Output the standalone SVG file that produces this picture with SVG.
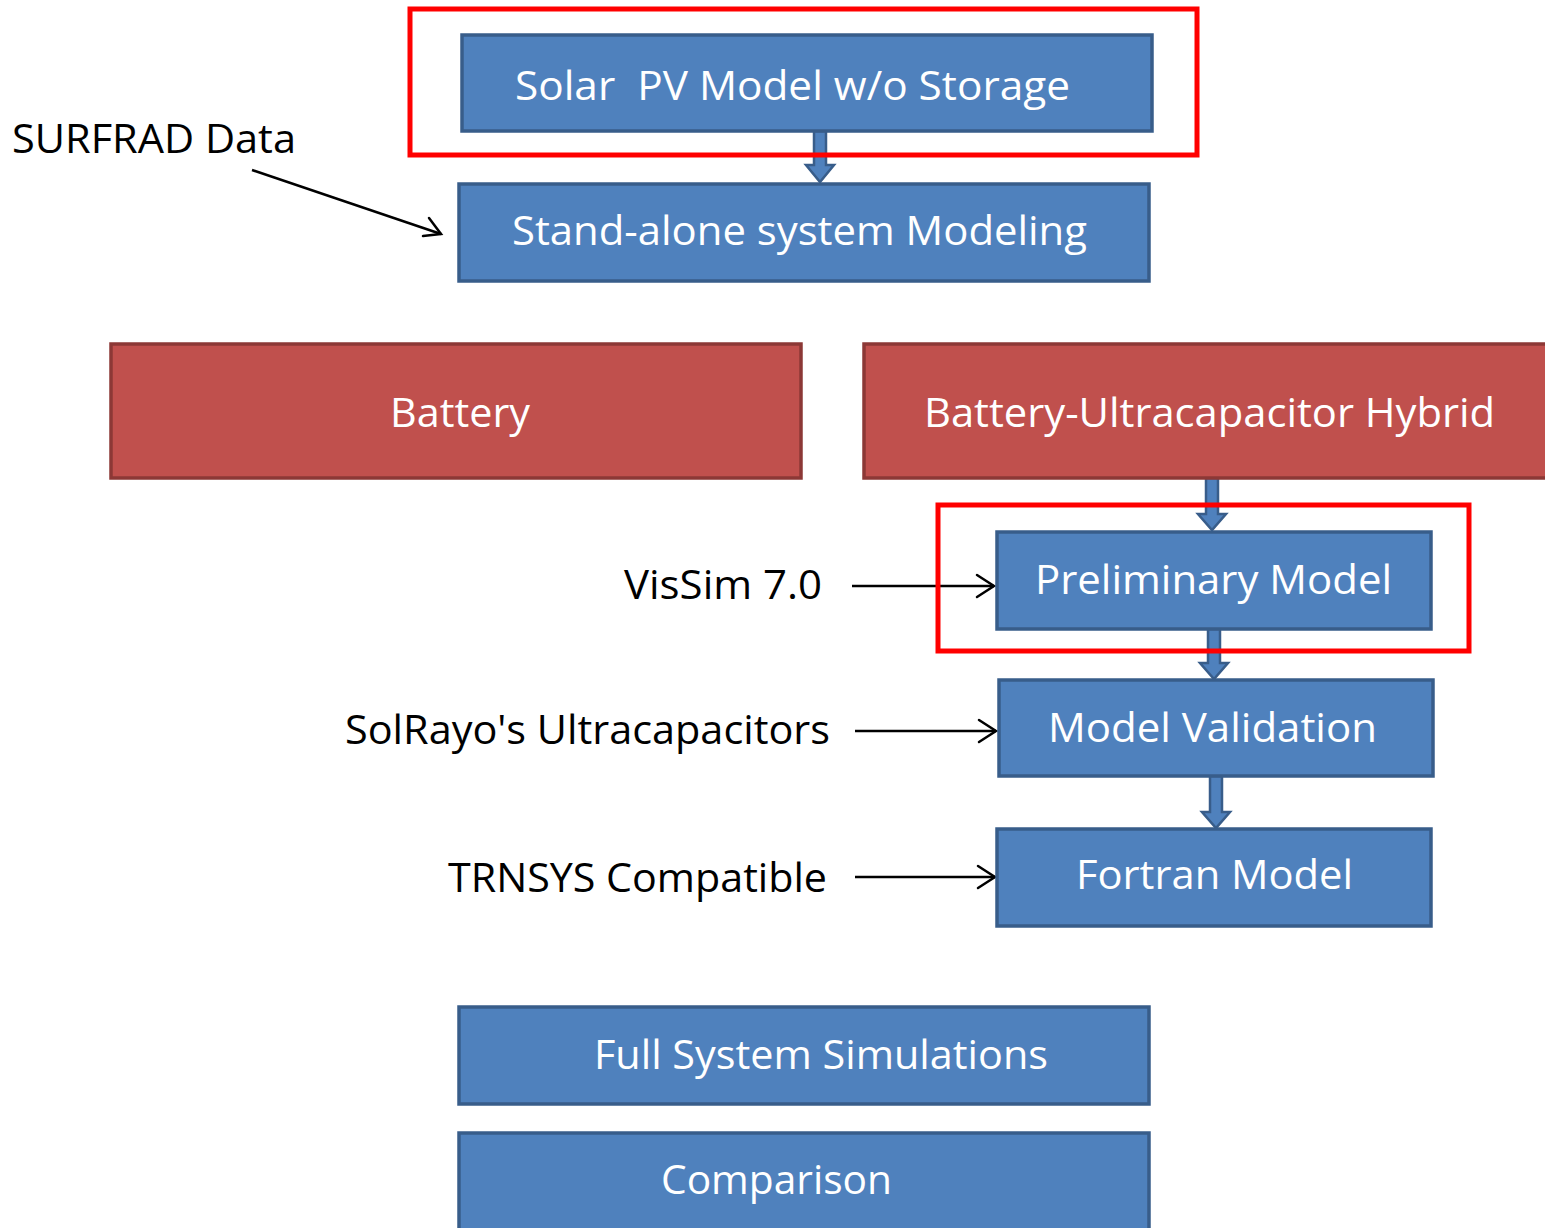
<svg xmlns="http://www.w3.org/2000/svg" width="1545" height="1228" viewBox="0 0 1545 1228">
<style>
.bx{fill:#4F81BD;stroke:#385D8A;stroke-width:3.5}
.rb{fill:#C0504D;stroke:#8C3836;stroke-width:3.5}
.hl{fill:none;stroke:#FF0000;stroke-width:5}
.wt{font-family:"Open Sans","Liberation Sans",sans-serif;font-size:40px;fill:#FFFFFF}
.bt{font-family:"Open Sans","Liberation Sans",sans-serif;font-size:40px;fill:#000000}
.ba{fill:#4F81BD;stroke:#385D8A;stroke-width:2.5;stroke-linejoin:miter}
.ln{stroke:#000;stroke-width:2.5;fill:none}
.hd{stroke:#000;stroke-width:2.5;fill:none;stroke-linecap:round}
</style>
<g id="connectors">
<polygon class="ba" points="814,131 826,131 826,165 834,165 820,182 806,165 814,165"/>
<polygon class="ba" points="1206,478 1218,478 1218,514 1226,514 1212,530 1198,514 1206,514"/>
<polygon class="ba" points="1208,629 1220,629 1220,663 1228,663 1214,679 1200,663 1208,663"/>
<polygon class="ba" points="1210,776 1222,776 1222,812 1230,812 1216,828 1202,812 1210,812"/>
<line class="ln" x1="252" y1="170" x2="441" y2="234"/>
<polyline class="hd" points="429,218 441,234 423,236"/>
<line class="ln" x1="852" y1="586" x2="994" y2="586"/>
<polyline class="hd" points="977,575 994,586 977,597"/>
<line class="ln" x1="855" y1="731" x2="996" y2="731"/>
<polyline class="hd" points="979,720 996,731 979,742"/>
<line class="ln" x1="855" y1="877" x2="995" y2="877"/>
<polyline class="hd" points="978,866 995,877 978,888"/>
</g>
<g id="solar"><rect class="bx" x="462" y="35" width="690" height="96"/><text class="wt" x="515" y="100" textLength="555" lengthAdjust="spacingAndGlyphs" xml:space="preserve">Solar  PV Model w/o Storage</text></g>
<g id="standalone"><rect class="bx" x="459" y="184" width="690" height="97"/><text class="wt" x="512" y="245" textLength="575" lengthAdjust="spacingAndGlyphs">Stand-alone system Modeling</text></g>
<g id="surfrad"><text class="bt" x="12" y="153" textLength="284" lengthAdjust="spacingAndGlyphs">SURFRAD Data</text></g>
<g id="battery"><rect class="rb" x="111" y="344" width="690" height="134"/><text class="wt" x="390" y="427" textLength="140" lengthAdjust="spacingAndGlyphs">Battery</text></g>
<g id="hybrid"><rect class="rb" x="864" y="344" width="700" height="134"/><text class="wt" x="924" y="427" textLength="571" lengthAdjust="spacingAndGlyphs">Battery-Ultracapacitor Hybrid</text></g>
<g id="preliminary"><rect class="bx" x="997" y="532" width="434" height="97"/><text class="wt" x="1035" y="594" textLength="357" lengthAdjust="spacingAndGlyphs">Preliminary Model</text></g>
<g id="vissim"><text class="bt" x="624" y="599" textLength="198" lengthAdjust="spacingAndGlyphs">VisSim 7.0</text></g>
<g id="validation"><rect class="bx" x="999" y="680" width="434" height="96"/><text class="wt" x="1048" y="742" textLength="329" lengthAdjust="spacingAndGlyphs">Model Validation</text></g>
<g id="solrayo"><text class="bt" x="345" y="744" textLength="485" lengthAdjust="spacingAndGlyphs">SolRayo's Ultracapacitors</text></g>
<g id="fortran"><rect class="bx" x="997" y="829" width="434" height="97"/><text class="wt" x="1076" y="889" textLength="277" lengthAdjust="spacingAndGlyphs">Fortran Model</text></g>
<g id="trnsys"><text class="bt" x="448" y="892" textLength="379" lengthAdjust="spacingAndGlyphs">TRNSYS Compatible</text></g>
<g id="fullsystem"><rect class="bx" x="459" y="1007" width="690" height="97"/><text class="wt" x="594" y="1069" textLength="454" lengthAdjust="spacingAndGlyphs">Full System Simulations</text></g>
<g id="comparison"><rect class="bx" x="459" y="1133" width="690" height="110"/><text class="wt" x="661" y="1194" textLength="231" lengthAdjust="spacingAndGlyphs">Comparison</text></g>
<g id="highlights">
<rect class="hl" x="410" y="9" width="787" height="146"/>
<rect class="hl" x="938" y="505" width="531" height="146"/>
</g>
</svg>
